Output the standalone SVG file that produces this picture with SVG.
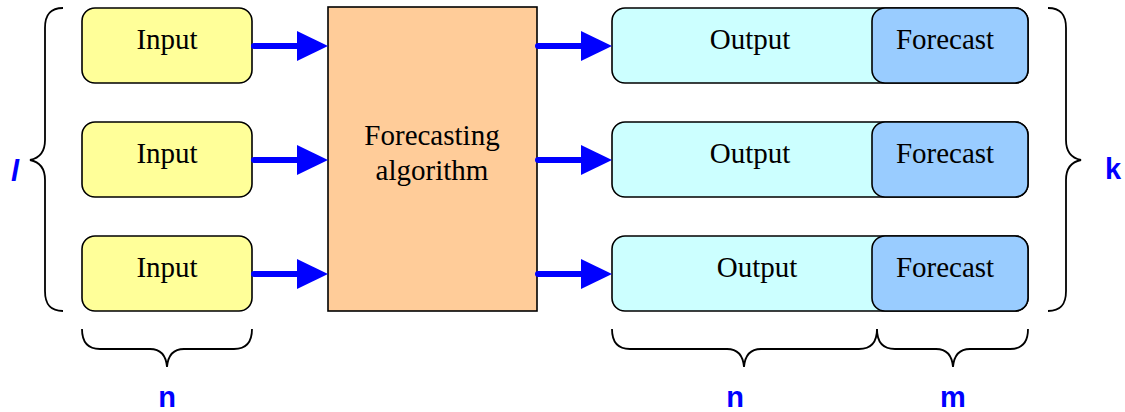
<svg xmlns="http://www.w3.org/2000/svg" width="1125" height="412" viewBox="0 0 1125 412">
<style>
.box{stroke:#000;stroke-width:1.6}
.t{font-family:"Liberation Serif","Times New Roman",serif;font-size:29px;fill:#000;text-anchor:middle}
.lbl{font-family:"Liberation Sans",Arial,sans-serif;font-weight:bold;font-size:29px;fill:#0000FF;text-anchor:middle}
.br{fill:none;stroke:#000;stroke-width:1.8}
.ln{stroke:#0000FF;stroke-width:6;stroke-linecap:round}
.hd{fill:#0000FF}
</style>
<rect width="1125" height="412" fill="#fff"/>
<g id="input1"><rect class="box" x="82" y="8" width="170" height="75" rx="13" fill="#FFFF99"/><text class="t" x="167" y="49">Input</text></g>
<g id="input2"><rect class="box" x="82" y="122" width="170" height="75" rx="13" fill="#FFFF99"/><text class="t" x="167" y="163">Input</text></g>
<g id="input3"><rect class="box" x="82" y="236" width="170" height="75" rx="13" fill="#FFFF99"/><text class="t" x="167" y="277">Input</text></g>
<g id="algorithm"><rect class="box" x="328" y="7" width="209" height="304" fill="#FFCC99"/><text class="t" x="432" y="145">Forecasting</text><text class="t" x="432" y="180">algorithm</text></g>
<g id="output1"><rect class="box" x="612" y="8" width="416" height="75" rx="13" fill="#CCFFFF"/><text class="t" x="750" y="49">Output</text></g>
<g id="forecast1"><rect class="box" x="872" y="8" width="156" height="75" rx="13" fill="#99CCFF"/><text class="t" x="945" y="49">Forecast</text></g>
<g id="output2"><rect class="box" x="612" y="122" width="416" height="75" rx="13" fill="#CCFFFF"/><text class="t" x="750" y="163">Output</text></g>
<g id="forecast2"><rect class="box" x="872" y="122" width="156" height="75" rx="13" fill="#99CCFF"/><text class="t" x="945" y="163">Forecast</text></g>
<g id="output3"><rect class="box" x="612" y="236" width="416" height="75" rx="13" fill="#CCFFFF"/><text class="t" x="757" y="277">Output</text></g>
<g id="forecast3"><rect class="box" x="872" y="236" width="156" height="75" rx="13" fill="#99CCFF"/><text class="t" x="945" y="277">Forecast</text></g>
<g id="connectors">
<line class="ln" x1="254" y1="46" x2="300" y2="46"/><polygon class="hd" points="297,31 328,46 297,61"/>
<line class="ln" x1="254" y1="160" x2="300" y2="160"/><polygon class="hd" points="297,145 328,160 297,175"/>
<line class="ln" x1="254" y1="274" x2="300" y2="274"/><polygon class="hd" points="297,259 328,274 297,289"/>
<line class="ln" x1="538" y1="46" x2="584" y2="46"/><polygon class="hd" points="581,31 612,46 581,61"/>
<line class="ln" x1="538" y1="160" x2="584" y2="160"/><polygon class="hd" points="581,145 612,160 581,175"/>
<line class="ln" x1="538" y1="274" x2="584" y2="274"/><polygon class="hd" points="581,259 612,274 581,289"/>
</g>
<g id="braces">
<path class="br" d="M63,8 C50,8 45,15 45,28 L45,140 C45,152 40,158 30,160 C40,162 45,168 45,180 L45,291 C45,304 50,311 63,311"/>
<path class="br" d="M1048,8 C1061,8 1066,15 1066,28 L1066,140 C1066,152 1071,158 1081,160 C1071,162 1066,168 1066,180 L1066,291 C1066,304 1061,311 1048,311"/>
<path class="br" d="M82,329 C82,342 88,349 100,349 L150,349 C160,349 166,355 167,367 C168,355 174,349 184,349 L234,349 C246,349 252,342 252,329"/>
<path class="br" d="M612,329 C612,342 618,349 630,349 L727,349 C737,349 743,355 744,367 C745,355 751,349 761,349 L859,349 C871,349 877,342 877,329"/>
<path class="br" d="M877,329 C877,342 883,349 895,349 L936,349 C946,349 952,355 953,367 C954,355 960,349 970,349 L1010,349 C1022,349 1028,342 1028,329"/>
</g>
<g id="labels">
<text class="lbl" x="15" y="181" font-style="italic">l</text>
<text class="lbl" x="1113" y="179">k</text>
<text class="lbl" x="167" y="407">n</text>
<text class="lbl" x="735" y="407">n</text>
<text class="lbl" x="953" y="407">m</text>
</g>
</svg>
